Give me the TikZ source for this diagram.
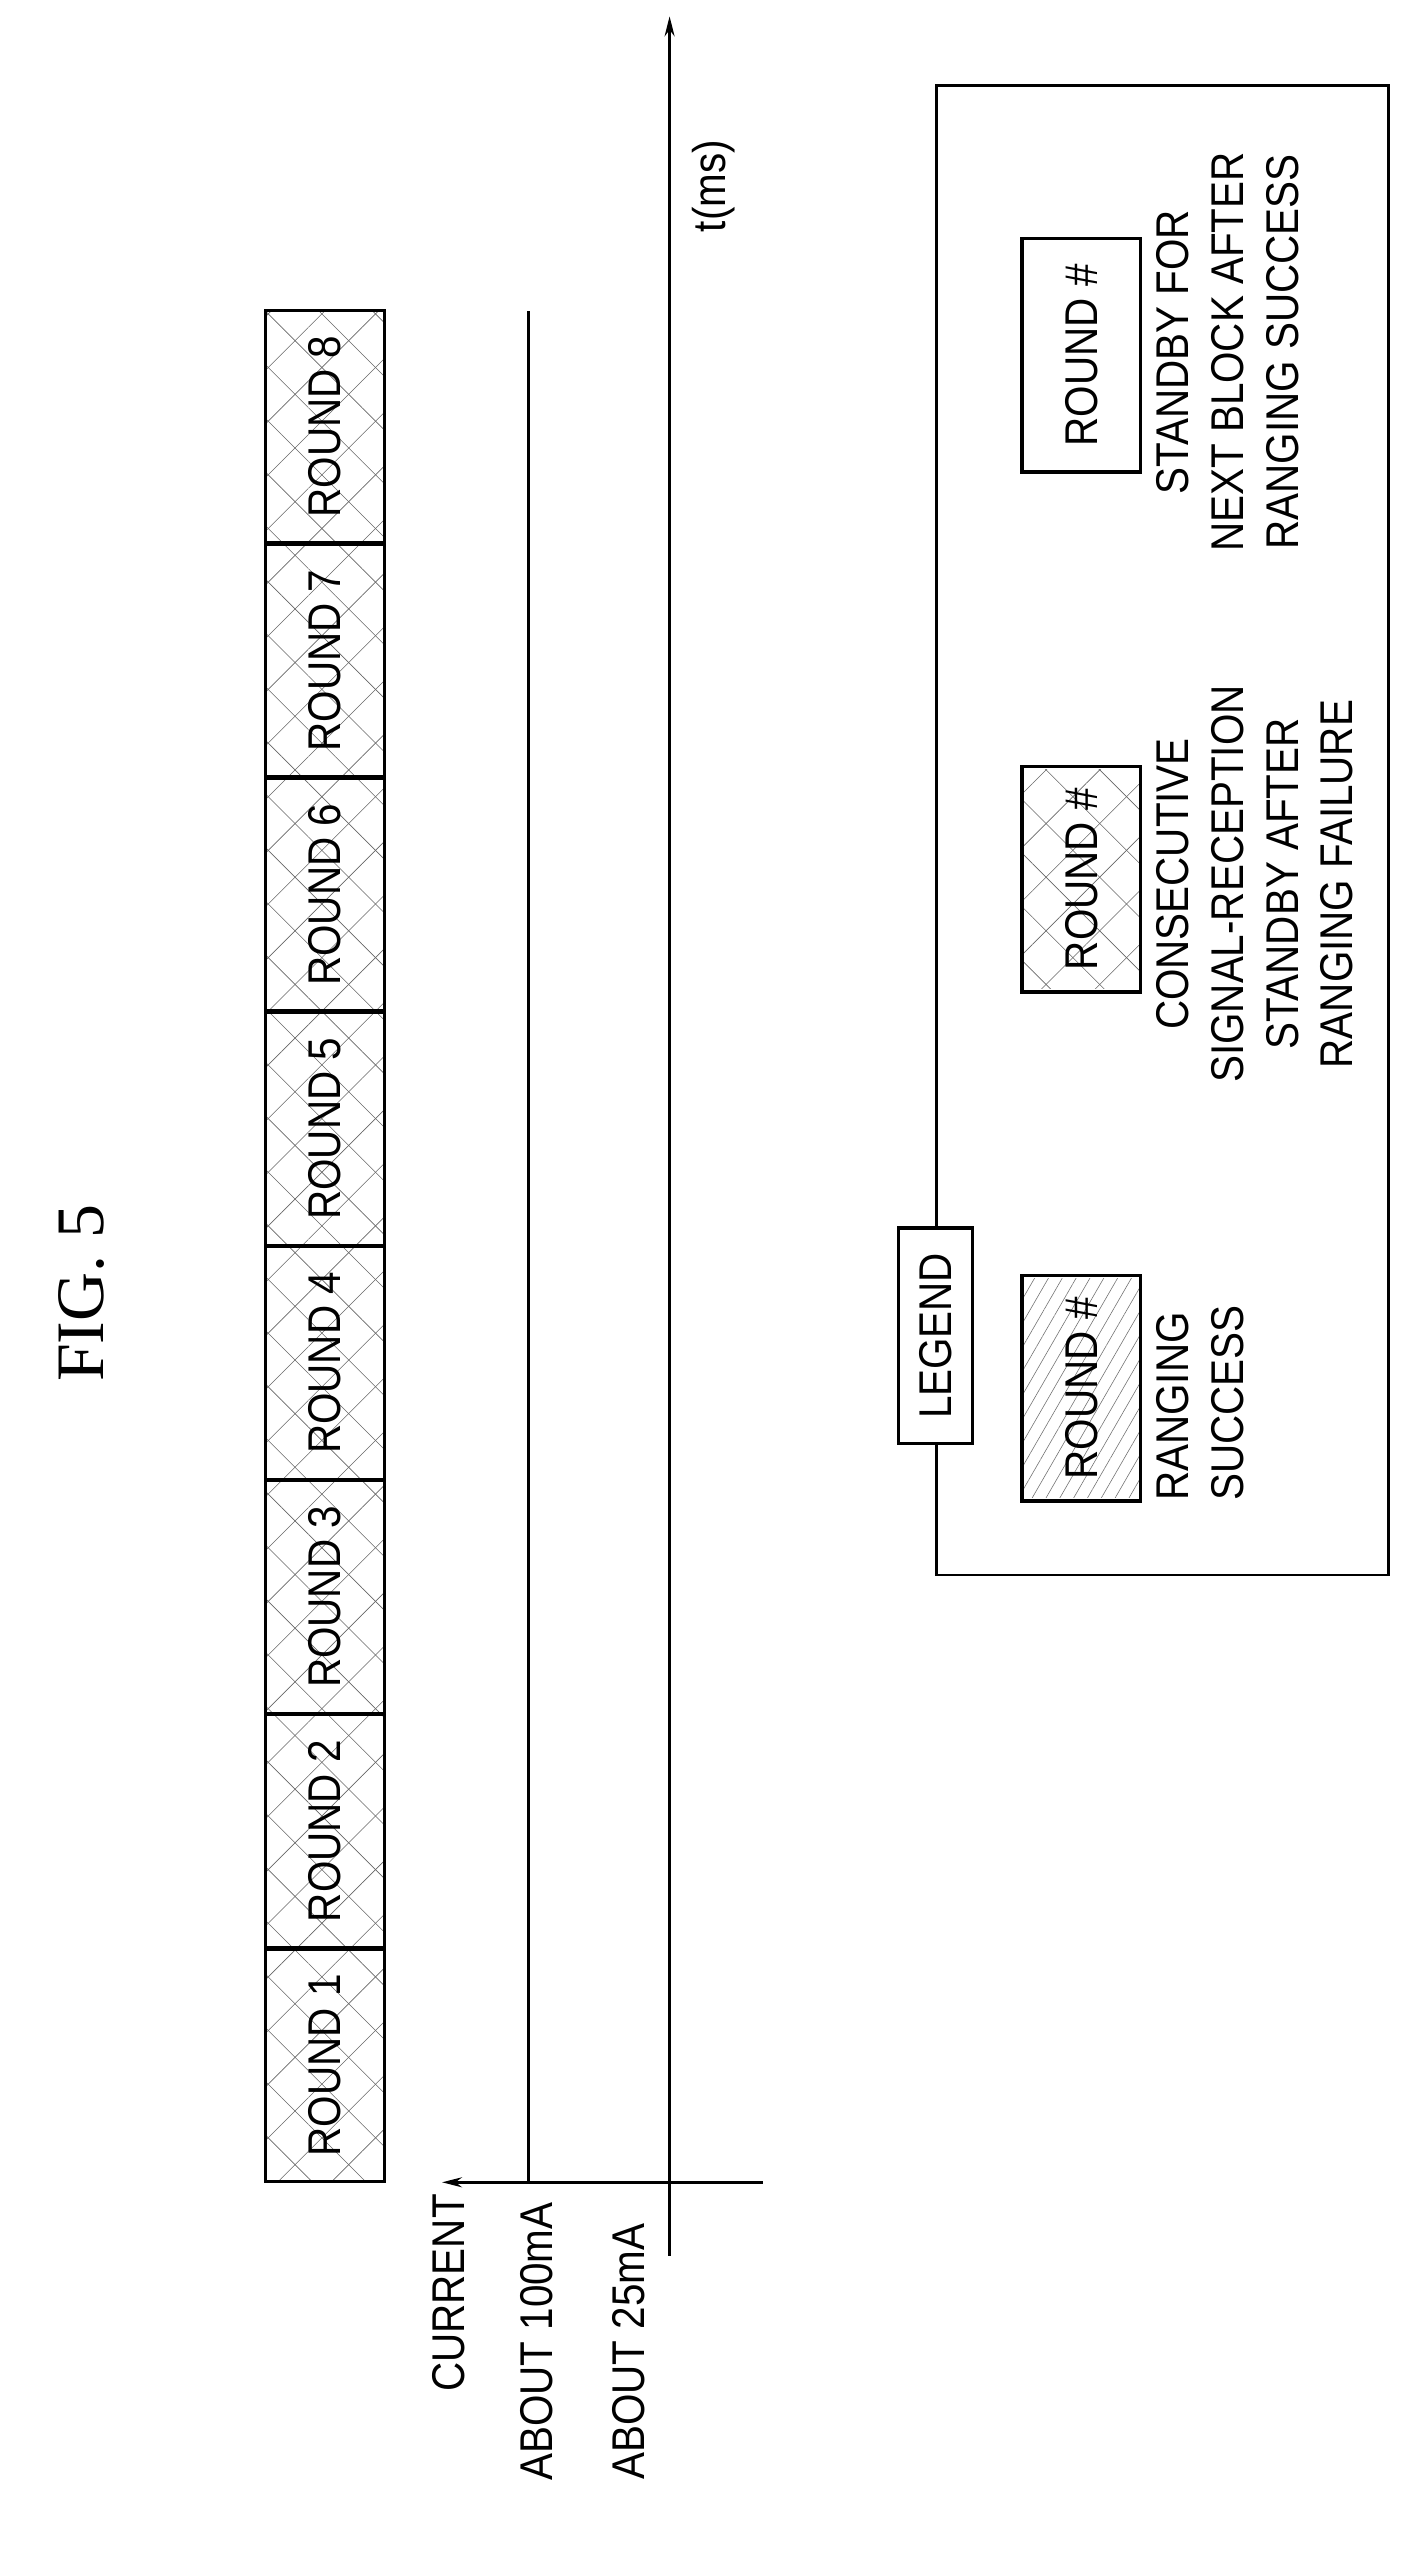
\documentclass[tikz,border=0pt]{standalone}
\usepackage{fontspec}
\setmainfont{Liberation Sans}[FakeStretch=0.88]
\newfontfamily\figfont{Liberation Serif}
\usetikzlibrary{patterns.meta,arrows.meta}
\begin{document}
\begin{tikzpicture}[x=0.82pt,y=-0.82pt,
  lw/.style={line width=1.4pt},
  rbox/.style={draw,line width=1.6pt,rotate=90,minimum width=116.5pt,minimum height=59.5pt,inner sep=0pt,font=\fontsize{23}{26}\selectfont},
  lbox/.style={draw,line width=1.6pt,rotate=90,minimum width=113pt,minimum height=59.5pt,inner sep=0pt,font=\fontsize{23}{26}\selectfont},
  txt/.style={rotate=90,font=\fontsize{23}{27.5}\selectfont,inner sep=0pt},
  xa/.style={pattern={Lines[angle=45,distance=19pt,line width=0.3pt]},pattern color=black!60},
  xb/.style={pattern={Lines[angle=-45,distance=19pt,line width=0.3pt]},pattern color=black!60},
  da/.style={pattern={Lines[angle=60,distance=6pt,line width=0.3pt]},pattern color=black!55}]
\useasboundingbox (0,0) rectangle (860,1568);
\node[font=\figfont\fontsize{34}{36}\selectfont,rotate=90] (fig) at (50,790) {FIG. 5};
% rounds
\foreach \i in {1,...,8}{
  \path[xa] (162,{1333-143*\i}) rectangle (235,{1333-143*(\i-1)});
  \path[xb] (162,{1333-143*\i}) rectangle (235,{1333-143*(\i-1)});
  \node[rbox] (r\i) at (198.5,{1333-143*(\i-0.5)}) {ROUND \i};
}
% axes
\coordinate (cs) at (466,1333);
\coordinate (ce) at (270,1333);
\coordinate (ts) at (409,1378);
\coordinate (te) at (409,10);
\coordinate (hb) at (323,1333);
\coordinate (ht) at (323,190);
\draw[lw,-{Stealth[length=10pt,width=5pt]}] (cs) -- (ce);
\draw[lw,-{Stealth[length=10pt,width=5pt]}] (ts) -- (te);
\draw[lw] (hb) -- (ht);
\node[txt,anchor=south east] (cur) at (284,1340) {CURRENT};
\node[txt,anchor=south east] (a100) at (338,1345) {ABOUT 100mA};
\node[txt,anchor=south east] (a25) at (394,1358) {ABOUT 25mA};
\node[txt,anchor=south west] (tms) at (449,142) {t(ms)};
% legend
\coordinate (f1) at (572,750);
\coordinate (f2) at (572,962);
\coordinate (f3) at (848,962);
\coordinate (f4) at (848,52);
\coordinate (f5) at (572,52);
\coordinate (f6) at (572,882);
\draw[lw] (f6) -- (f2) -- (f3) -- (f4) -- (f5) -- (f1);
\node[draw,line width=1.6pt,rotate=90,minimum width=108pt,minimum height=37pt,inner sep=0pt,fill=white,font=\fontsize{23}{26}\selectfont] (leg) at (571.5,816) {LEGEND};
\path[da] (624,781) rectangle (697,915);
\node[lbox] (l1) at (660.5,848) {ROUND \#};
\path[xa] (624,470) rectangle (697,604);
\path[xb] (624,470) rectangle (697,604);
\node[lbox] (l2) at (660.5,537) {ROUND \#};
\node[lbox,minimum width=117pt] (l3) at (660.5,217) {ROUND \#};
\node[txt,anchor=north west,align=left] (t1) at (706,917) {RANGING\\SUCCESS};
\node[txt,anchor=north,align=center] (t2) at (706,540) {CONSECUTIVE\\SIGNAL-RECEPTION\\STANDBY AFTER\\RANGING FAILURE};
\node[txt,anchor=north,align=center] (t3) at (706,215) {STANDBY FOR\\NEXT BLOCK AFTER\\RANGING SUCCESS};
\end{tikzpicture}
\end{document}
